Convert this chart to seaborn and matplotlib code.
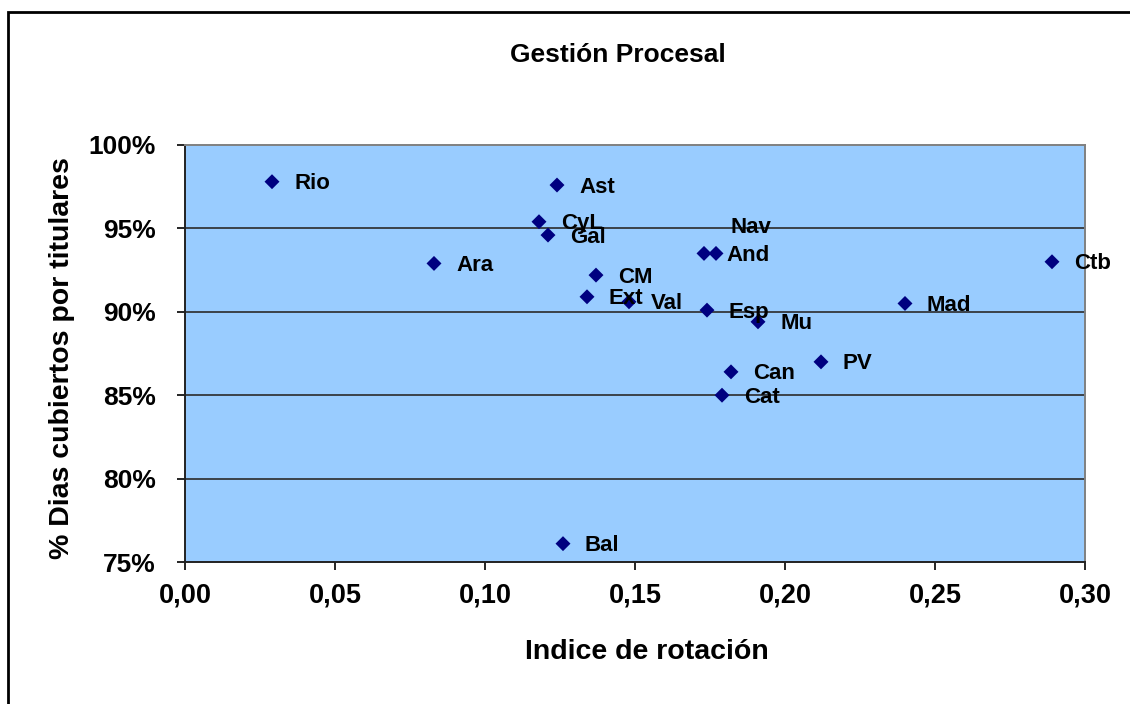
import matplotlib
matplotlib.use("Agg")
import matplotlib.pyplot as plt
import matplotlib.ticker as mticker
from matplotlib.patches import Rectangle
import seaborn as sns
import pandas as pd

regiones = ["Rio", "Ast", "CyL", "Gal", "Ara", "CM", "Ext", "Val", "And", "Nav",
            "Esp", "Mu", "PV", "Can", "Cat", "Mad", "Ctb", "Bal"]
indice_rotacion = [0.029, 0.124, 0.118, 0.121, 0.083, 0.137, 0.134, 0.148, 0.173, 0.177,
                   0.174, 0.191, 0.212, 0.182, 0.179, 0.240, 0.289, 0.126]
dias_cubiertos = [0.978, 0.976, 0.954, 0.946, 0.929, 0.922, 0.909, 0.906, 0.935, 0.935,
                  0.901, 0.894, 0.870, 0.864, 0.850, 0.905, 0.930, 0.761]

x_ticks = [0.00, 0.05, 0.10, 0.15, 0.20, 0.25, 0.30]
y_ticks = [0.75, 0.80, 0.85, 0.90, 0.95, 1.00]

df = pd.DataFrame({"region": regiones, "x": indice_rotacion, "y": dias_cubiertos})

sns.set_theme(style="white")
plt.rcParams["font.family"] = ["Liberation Sans", "DejaVu Sans"]
plt.rcParams["font.weight"] = "bold"
plt.rcParams["text.color"] = "black"
plt.rcParams["axes.labelcolor"] = "black"
plt.rcParams["xtick.color"] = "black"
plt.rcParams["ytick.color"] = "black"

fig = plt.figure(figsize=(11.3, 7.04), dpi=100)
fig.patch.set_facecolor("white")
ax = fig.add_axes([185 / 1130, 1 - 562 / 704, 900 / 1130, 417 / 704])
ax.set_facecolor("#99CCFF")

for g in y_ticks[1:-1]:
    ax.axhline(g, color="#2b2b2b", lw=1.2, zorder=1)

sns.scatterplot(data=df, x="x", y="y", marker="D", color="#000080", s=58,
                edgecolor="none", ax=ax, zorder=3, legend=False)

for r, xv, yv in zip(regiones, indice_rotacion, dias_cubiertos):
    off = (22, -2)
    if r == "Nav":
        off = (15, 26)
    ax.annotate(r, (xv, yv), xytext=off, textcoords="offset pixels",
                ha="left", va="center", fontsize=16, fontweight="bold",
                color="black", zorder=4)

ax.set_xlim(0, 0.30)
ax.set_ylim(0.75, 1.00)
ax.set_xticks(x_ticks)
ax.set_yticks(y_ticks)
ax.xaxis.set_major_formatter(mticker.FuncFormatter(lambda v, p: f"{v:.2f}".replace(".", ",")))
ax.yaxis.set_major_formatter(mticker.PercentFormatter(1.0, decimals=0))
ax.tick_params(axis="y", direction="out", length=6, width=1.2, color="black",
               labelcolor="black", labelsize=19, pad=15, left=True)
ax.tick_params(axis="x", direction="out", length=6, width=1.2, color="black",
               labelcolor="black", labelsize=19.5, pad=9, bottom=True)
for lab in ax.get_xticklabels() + ax.get_yticklabels():
    lab.set_fontweight("bold")

for s in ["left", "bottom"]:
    ax.spines[s].set_color("#222222")
    ax.spines[s].set_linewidth(1.4)
for s in ["top", "right"]:
    ax.spines[s].set_color("#808080")
    ax.spines[s].set_linewidth(1.4)

ax.set_xlabel("")
ax.set_ylabel("")
fig.text(647 / 1130, 1 - 652 / 704, "Indice de rotación", ha="center", va="center",
         fontsize=20.5, fontweight="bold", color="black")
fig.text(62 / 1130, 1 - 358 / 704, "% Dias cubiertos por titulares", ha="center",
         va="center", rotation=90, fontsize=20.5, fontweight="bold", color="black")
fig.text(618 / 1130, 1 - 55 / 704, "Gestión Procesal", ha="center", va="center",
         fontsize=19, fontweight="bold", color="black")

fig.add_artist(Rectangle((8 / 1130, -0.05), 1.2, 1 - 12 / 704 + 0.05,
                         transform=fig.transFigure, fill=False, lw=2, ec="black"))

fig.savefig("out.png", dpi=100)
